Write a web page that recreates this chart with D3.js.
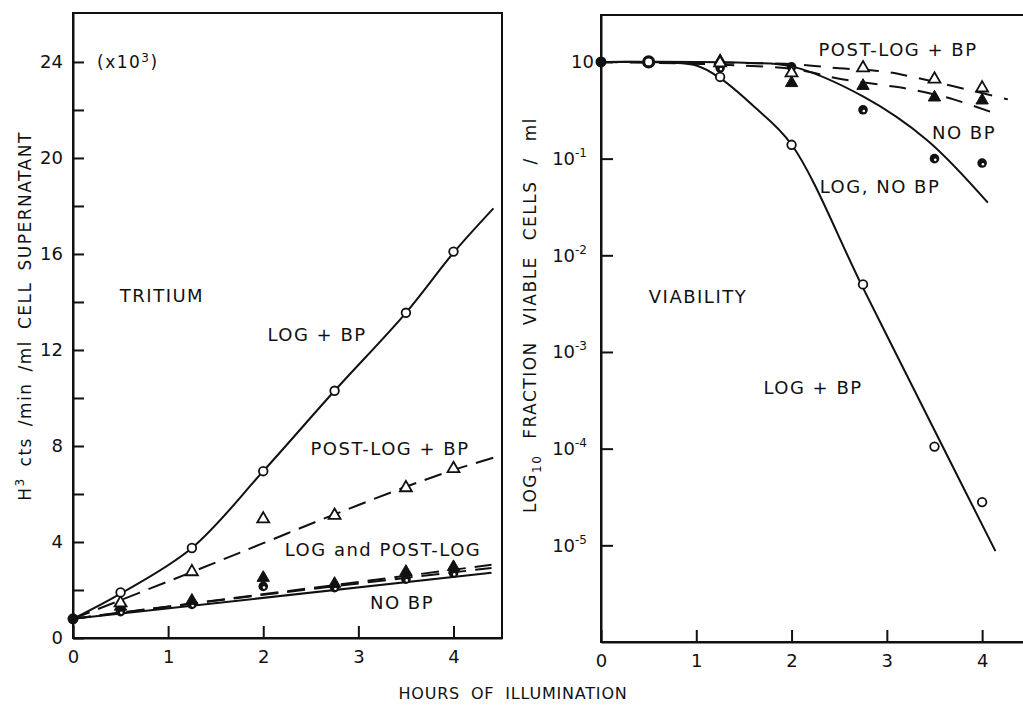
<!DOCTYPE html>
<html>
<head>
<meta charset="utf-8">
<title>Tritium release and viability</title>
<script src="https://cdn.jsdelivr.net/npm/d3@7"></script>
<style>
  body { margin: 0; background: #fff; }
  text { font-family: "DejaVu Sans", sans-serif; fill: #111; }
  .lbl { font-size: 18px; letter-spacing: 1.5px; }
  .ttl { font-size: 17px; letter-spacing: 1.5px; }
  .tick text { font-size: 18px; }
  .axis path, .axis line { stroke: #111; stroke-width: 2; }
  .frame { fill: none; stroke: #111; stroke-width: 2; }
  .fit { fill: none; stroke: #111; stroke-width: 2; }
</style>
</head>
<body>
<svg width="1023" height="706"></svg>
<script>

// ---- data ----
// hours of illumination where samples were taken
var hours = [0.5, 1.25, 2, 2.75, 3.5, 4];
var hoursR = [1.25, 2, 2.75, 3.5, 4];

// left: tritium (x10^3 cts/min/ml), start value at 0 h
var tritStart = 0.8;
var tritLogBP    = [1.9, 3.75, 6.95, 10.3, 13.55, 16.1];
var tritPostBP   = [1.5, 2.8, 5.0, 5.15, 6.3, 7.1];
var tritLogNoBP  = [1.1, 1.4, 2.15, 2.1, 2.45, 2.7];
var tritPostNoBP = [1.35, 1.6, 2.55, 2.3, 2.8, 3.0];

// left: hand drawn curves [hours], [values]
var curveLogBP_h  = [0, 0.5, 1.25, 2, 2.75, 3.5, 4, 4.42];
var curveLogBP_v  = [0.8, 1.85, 3.75, 6.95, 10.3, 13.55, 16.05, 17.9];
var curvePostBP_h = [0, 1.25, 2, 2.75, 3.5, 4, 4.45];
var curvePostBP_v = [0.8, 2.75, 3.95, 5.15, 6.3, 7.0, 7.55];
var curveNoBPa_h  = [0, 4.4];
var curveNoBPa_v  = [0.8, 3.05];
var curveNoBPb_h  = [0, 2, 4.4];
var curveNoBPb_v  = [0.8, 1.8, 2.92];
var curveNoBPs_h  = [0, 4.4];
var curveNoBPs_v  = [0.8, 2.72];

// right: viability fraction, 1.0 at 0 and 0.5 h for all
var viabStart = [1, 1];
var viabLogBP    = [0.70, 0.139, 5.0e-3, 1.05e-4, 2.8e-5];
var viabLogNoBP  = [0.87, 0.89, 0.32, 0.10, 0.09];
var viabPostBP   = [1.0, 0.79, 0.89, 0.68, 0.55];
var viabPostNoBP = [1.05, 0.62, 0.58, 0.44, 0.41];

var vCurveLogBP_h   = [0, 0.5, 1.0, 1.25, 1.6, 2, 2.75, 3.5, 4.14];
var vCurveLogBP_v   = [1, 1, 0.92, 0.68, 0.35, 0.14, 4.6e-3, 1.55e-4, 8.7e-6];
var vCurveLogNoBP_h = [0, 1.5, 2, 2.75, 3.42, 4.06];
var vCurveLogNoBP_v = [1, 0.98, 0.9, 0.44, 0.156, 0.035];
var vCurvePostBP_h  = [0, 2, 2.5, 3.0, 3.3, 3.7, 4.27];
var vCurvePostBP_v  = [1, 0.95, 0.86, 0.79, 0.69, 0.56, 0.41];
var vCurvePostNo_h  = [0, 2, 2.5, 3.0, 3.3, 3.7, 4.11];
var vCurvePostNo_v  = [1, 0.85, 0.67, 0.57, 0.51, 0.41, 0.30];

var yTicksL = [0, 2, 4, 6, 8, 10, 12, 14, 16, 18, 20, 22, 24];
var yTicksR = [1, 1e-1, 1e-2, 1e-3, 1e-4, 1e-5];
var yTickLabR = ["", "-1", "-2", "-3", "-4", "-5"];
var xTicks = [0, 1, 2, 3, 4];

// ---- scales ----
var svg = d3.select("svg");

var xL = d3.scaleLinear().domain([0, 4.51]).range([73, 502]),
    yL = d3.scaleLinear().domain([0, 26.04]).range([638, 13]);
var xR = d3.scaleLinear().domain([0, 4.45]).range([601, 1025]),
    yR = d3.scaleLog().domain([1e-6, 3.06]).range([642, 15]);

function drawCurve(x, y, hs, vs, dash) {
  var line = d3.line()
    .x(function(d) { return x(d[0]); })
    .y(function(d) { return y(d[1]); })
    .curve(d3.curveCatmullRom.alpha(0.5));
  svg.append("path")
    .attr("class", "fit")
    .attr("d", line(d3.zip(hs, vs)))
    .attr("stroke-dasharray", dash || null);
}

function drawMarks(x, y, hs, vs, kind) {
  var g = svg.append("g");
  var pts = d3.zip(hs, vs);
  if (kind == "open" || kind == "bold") {
    g.selectAll("circle").data(pts).enter().append("circle")
      .attr("cx", function(d) { return x(d[0]); })
      .attr("cy", function(d) { return y(d[1]); })
      .attr("r", kind == "bold" ? 5 : 4.3)
      .attr("fill", "#fff").attr("stroke", "#111")
      .attr("stroke-width", kind == "bold" ? 3.2 : 1.8);
  } else if (kind == "dot" || kind == "half") {
    g.selectAll("circle").data(pts).enter().append("circle")
      .attr("cx", function(d) { return x(d[0]); })
      .attr("cy", function(d) { return y(d[1]); })
      .attr("r", kind == "dot" ? 5.5 : 4.8)
      .attr("fill", "#111");
    if (kind == "half") {
      g.selectAll("circle.hl").data(pts).enter().append("circle")
        .attr("class", "hl")
        .attr("cx", function(d) { return x(d[0]) + 0.8; })
        .attr("cy", function(d) { return y(d[1]) + 1.2; })
        .attr("r", 1.3)
        .attr("fill", "#fff");
    }
  } else {
    var sym = d3.symbol().type(d3.symbolTriangle).size(kind == "tri" ? 62 : 66);
    g.selectAll("path").data(pts).enter().append("path")
      .attr("transform", function(d) { return "translate(" + x(d[0]) + "," + (y(d[1]) + 1) + ")"; })
      .attr("d", sym)
      .attr("fill", kind == "tri" ? "#fff" : "#111")
      .attr("stroke", "#111")
      .attr("stroke-width", kind == "tri" ? 1.8 : 1);
  }
}

function label(x, y, txt, cls) {
  svg.append("text")
    .attr("class", cls || "lbl")
    .attr("x", x).attr("y", y)
    .attr("dy", "0.36em")
    .attr("text-anchor", "middle")
    .text(txt);
}

// ---- left panel: tritium ----
svg.append("rect").attr("class", "frame")
  .attr("x", xL(0)).attr("y", yL(26.04))
  .attr("width", xL(4.51) - xL(0)).attr("height", yL(0) - yL(26.04));

svg.append("g")
  .attr("class", "axis")
  .attr("transform", "translate(0," + yL(0) + ")")
  .call(d3.axisBottom(xL).tickValues(xTicks).tickSize(-12).tickSizeOuter(0).tickPadding(12).tickFormat(d3.format("d")));

svg.append("g")
  .attr("class", "axis")
  .attr("transform", "translate(" + xL(0) + ",0)")
  .call(d3.axisLeft(yL).tickValues(yTicksL).tickSize(-11).tickSizeOuter(0).tickPadding(10)
    .tickFormat(function(d) { return d % 4 == 0 ? d : ""; }));

drawCurve(xL, yL, curveNoBPs_h, curveNoBPs_v);
drawCurve(xL, yL, curveNoBPa_h, curveNoBPa_v, "18,9");
drawCurve(xL, yL, curveNoBPb_h, curveNoBPb_v, "18,9");
drawCurve(xL, yL, curvePostBP_h, curvePostBP_v, "18,9");
drawCurve(xL, yL, curveLogBP_h, curveLogBP_v);

drawMarks(xL, yL, hours, tritLogNoBP, "half");
drawMarks(xL, yL, hours, tritPostNoBP, "triF");
drawMarks(xL, yL, hours, tritPostBP, "tri");
drawMarks(xL, yL, hours, tritLogBP, "open");
drawMarks(xL, yL, [0], [tritStart], "dot");

svg.append("text").attr("class", "ttl")
  .attr("x", 97).attr("y", yL(24)).attr("dy", "0.36em")
  .text("(x10").append("tspan").attr("dy", -6).attr("font-size", 12).text("3")
  .select(function() { return this.parentNode; })
  .append("tspan").attr("dy", 6).text(")");

label(162, 296, "TRITIUM");
label(317, 335, "LOG + BP");
label(390, 449, "POST-LOG + BP");
label(383, 550, "LOG and POST-LOG");
label(402, 603, "NO BP");

// ---- right panel: viability ----
svg.append("path").attr("class", "frame")
  .attr("d", "M1025," + yR(3.06) + "H" + xR(0) + "V" + yR(1e-6) + "H1025");

svg.append("g")
  .attr("class", "axis")
  .attr("transform", "translate(0," + yR(1e-6) + ")")
  .call(d3.axisBottom(xR).tickValues(xTicks).tickSize(-12).tickSizeOuter(0).tickPadding(12).tickFormat(d3.format("d")));

svg.append("g")
  .attr("class", "axis")
  .attr("transform", "translate(" + xR(0) + ",0)")
  .call(d3.axisLeft(yR).tickValues(yTicksR).tickSize(-12).tickSizeOuter(0).tickFormat(""));

yTicksR.forEach(function(t, i) {
  var tx = svg.append("text")
    .attr("x", xR(0) - (i == 0 ? 7 : 14))
    .attr("y", yR(t)).attr("dy", "0.36em")
    .attr("text-anchor", "end")
    .style("font-size", "18px")
    .text("10");
  if (yTickLabR[i]) {
    tx.append("tspan").attr("dy", -8).style("font-size", "12px").text(yTickLabR[i]);
  }
});

drawCurve(xR, yR, vCurvePostNo_h, vCurvePostNo_v, "17,12");
drawCurve(xR, yR, vCurvePostBP_h, vCurvePostBP_v, "17,12");
drawCurve(xR, yR, vCurveLogNoBP_h, vCurveLogNoBP_v);
drawCurve(xR, yR, vCurveLogBP_h, vCurveLogBP_v);

drawMarks(xR, yR, hoursR, viabLogNoBP, "half");
drawMarks(xR, yR, hoursR, viabPostNoBP, "triF");
drawMarks(xR, yR, hoursR, viabPostBP, "tri");
drawMarks(xR, yR, hoursR, viabLogBP, "open");
drawMarks(xR, yR, [0], [viabStart[0]], "dot");
drawMarks(xR, yR, [0.5], [viabStart[1]], "bold");

label(898, 50, "POST-LOG + BP");
label(964, 133, "NO BP");
label(880, 187, "LOG, NO BP");
label(698, 297, "VIABILITY");
label(813, 388, "LOG + BP");

// ---- axis titles ----
var tl = svg.append("text").attr("class", "ttl")
  .attr("transform", "translate(31,316) rotate(-90)")
  .attr("text-anchor", "middle")
  .style("word-spacing", "4px");
tl.append("tspan").text("H");
tl.append("tspan").attr("dy", -7).style("font-size", "12px").text("3");
tl.append("tspan").attr("dy", 7).text(" cts /min /ml  CELL SUPERNATANT");

var tr = svg.append("text").attr("class", "ttl")
  .attr("transform", "translate(536,315) rotate(-90)")
  .attr("text-anchor", "middle")
  .style("word-spacing", "9px");
tr.append("tspan").text("LOG");
tr.append("tspan").attr("dy", 5).style("font-size", "12px").text("10");
tr.append("tspan").attr("dy", -5).text(" FRACTION VIABLE CELLS / ml");

svg.append("text")
  .attr("x", 513).attr("y", 693).attr("dy", "0.36em")
  .attr("text-anchor", "middle")
  .style("font-size", "16px")
  .style("letter-spacing", "0.8px")
  .style("word-spacing", "5px")
  .text("HOURS OF ILLUMINATION");

</script>
</body>
</html>
